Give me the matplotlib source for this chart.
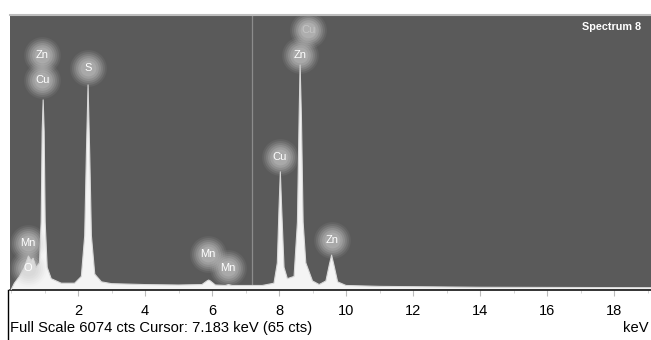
import matplotlib
matplotlib.use("Agg")
import matplotlib.pyplot as plt
from matplotlib.ticker import MultipleLocator

plt.rcParams['font.family'] = ['Liberation Sans', 'DejaVu Sans']

# EDS spectrum read as (energy keV, counts) samples
energy = [0.00, 0.10, 0.25, 0.40, 0.52, 0.60, 0.66, 0.75, 0.85, 0.90, 0.93, 0.96,
          0.99, 1.02, 1.08, 1.20, 1.50, 1.90, 2.10, 2.20, 2.25, 2.30, 2.35, 2.40,
          2.50, 2.70, 3.00, 4.00, 5.00, 5.70, 5.85, 5.90, 5.95, 6.10, 6.40, 6.49,
          6.60, 7.50, 7.85, 7.95, 8.00, 8.04, 8.08, 8.15, 8.25, 8.45, 8.55, 8.60,
          8.63, 8.67, 8.72, 8.80, 8.90, 9.00, 9.20, 9.40, 9.50, 9.57, 9.64, 9.75,
          10.0, 11.0, 14.0, 20.0]
counts = [0, 150, 300, 500, 750, 650, 700, 500, 600, 1500, 3500, 4200,
          3500, 1500, 500, 250, 150, 150, 300, 1200, 3000, 4530, 3000, 1200,
          350, 180, 140, 120, 110, 120, 200, 220, 200, 110, 100, 120,
          100, 100, 150, 600, 1800, 2610, 1800, 500, 250, 300, 1500, 3800,
          4970, 3800, 1500, 600, 400, 200, 120, 200, 550, 770, 550, 180,
          100, 80, 60, 50]

# Peak labels: (symbol, energy keV, counts at label centre, faint)
label_names = ['Zn', 'Cu', 'S', 'Cu', 'Zn', 'Cu', 'Zn', 'Mn', 'Mn', 'Mn', 'O']
label_keV = [0.93, 0.93, 2.30, 8.87, 8.63, 8.03, 9.58, 5.88, 6.48, 0.51, 0.51]
label_cts = [5190, 4640, 4900, 5740, 5190, 2940, 1100, 800, 490, 1040, 490]
label_faint = [False, False, False, True, False, False, False, False, False, False, False]

full_scale = 6074
cursor_keV = 7.183
cursor_cts = 65
x_ticks = [2, 4, 6, 8, 10, 12, 14, 16, 18]

W, H = 651, 340
fig = plt.figure(figsize=(W / 100, H / 100), dpi=100)
fig.patch.set_facecolor('white')
ax = fig.add_axes([10 / W, 50 / H, (W - 10) / W, 275 / H])
ax.set_facecolor('#5a5a5a')
ax.set_xlim(-0.03, (W - 11) / 33.5)
ax.set_ylim(0, full_scale)

# spectrum
ax.fill_between(energy, counts, 0, color='#f4f4f4', lw=0, zorder=2)
ax.plot(energy, counts, color='#d8d8d8', lw=0.8, zorder=3)

# cursor marker
ax.axvline(cursor_keV, color='#8c8c8c', lw=0.9, zorder=1)

# element labels with soft halo
for name, xk, yc, faint in zip(label_names, label_keV, label_cts, label_faint):
    col = '#cfcfcf' if not faint else '#d6d6d6'
    for s, a in [(700, 0.08), (560, 0.12), (430, 0.16), (320, 0.20), (220, 0.24), (130, 0.26)]:
        ax.scatter([xk], [yc], s=s, color=col, alpha=a, lw=0, zorder=4)
    ax.text(xk, yc, name, color='white' if not faint else '#c4c4c4',
            fontsize=8, ha='center', va='center', zorder=5)

fig.text(582 / W, (H - 27) / H, 'Spectrum 8', color='white', fontsize=7.8,
         fontweight='bold', ha='left', va='center')

# axes styling
for side in ['top', 'right', 'left']:
    ax.spines[side].set_visible(False)
ax.spines['bottom'].set_color('#111111')
ax.spines['bottom'].set_linewidth(1.2)
ax.set_yticks([])
ax.set_xticks(x_ticks)
ax.xaxis.set_minor_locator(MultipleLocator(1))
ax.tick_params(axis='x', which='major', length=4, color='#bbbbbb', labelsize=10.5,
               pad=6, labelcolor='black')
ax.tick_params(axis='x', which='minor', length=2, color='#cccccc')
ax.axhline(full_scale, color='#bdbdbd', lw=1.5, zorder=6, clip_on=False)

# frame line on the left of the bottom panel
fig.add_artist(plt.Line2D([8 / W, 8 / W], [0, 50 / H], color='black', lw=1))

fig.text(10 / W, (H - 328) / H,
         f'Full Scale {full_scale} cts Cursor: {cursor_keV:.3f} keV ({cursor_cts} cts)',
         fontsize=10.6, ha='left', va='center', color='black')
fig.text(649 / W, (H - 328) / H, 'keV', fontsize=10.6, ha='right', va='center',
         color='black')

fig.savefig('out.png', dpi=100, facecolor='white')
